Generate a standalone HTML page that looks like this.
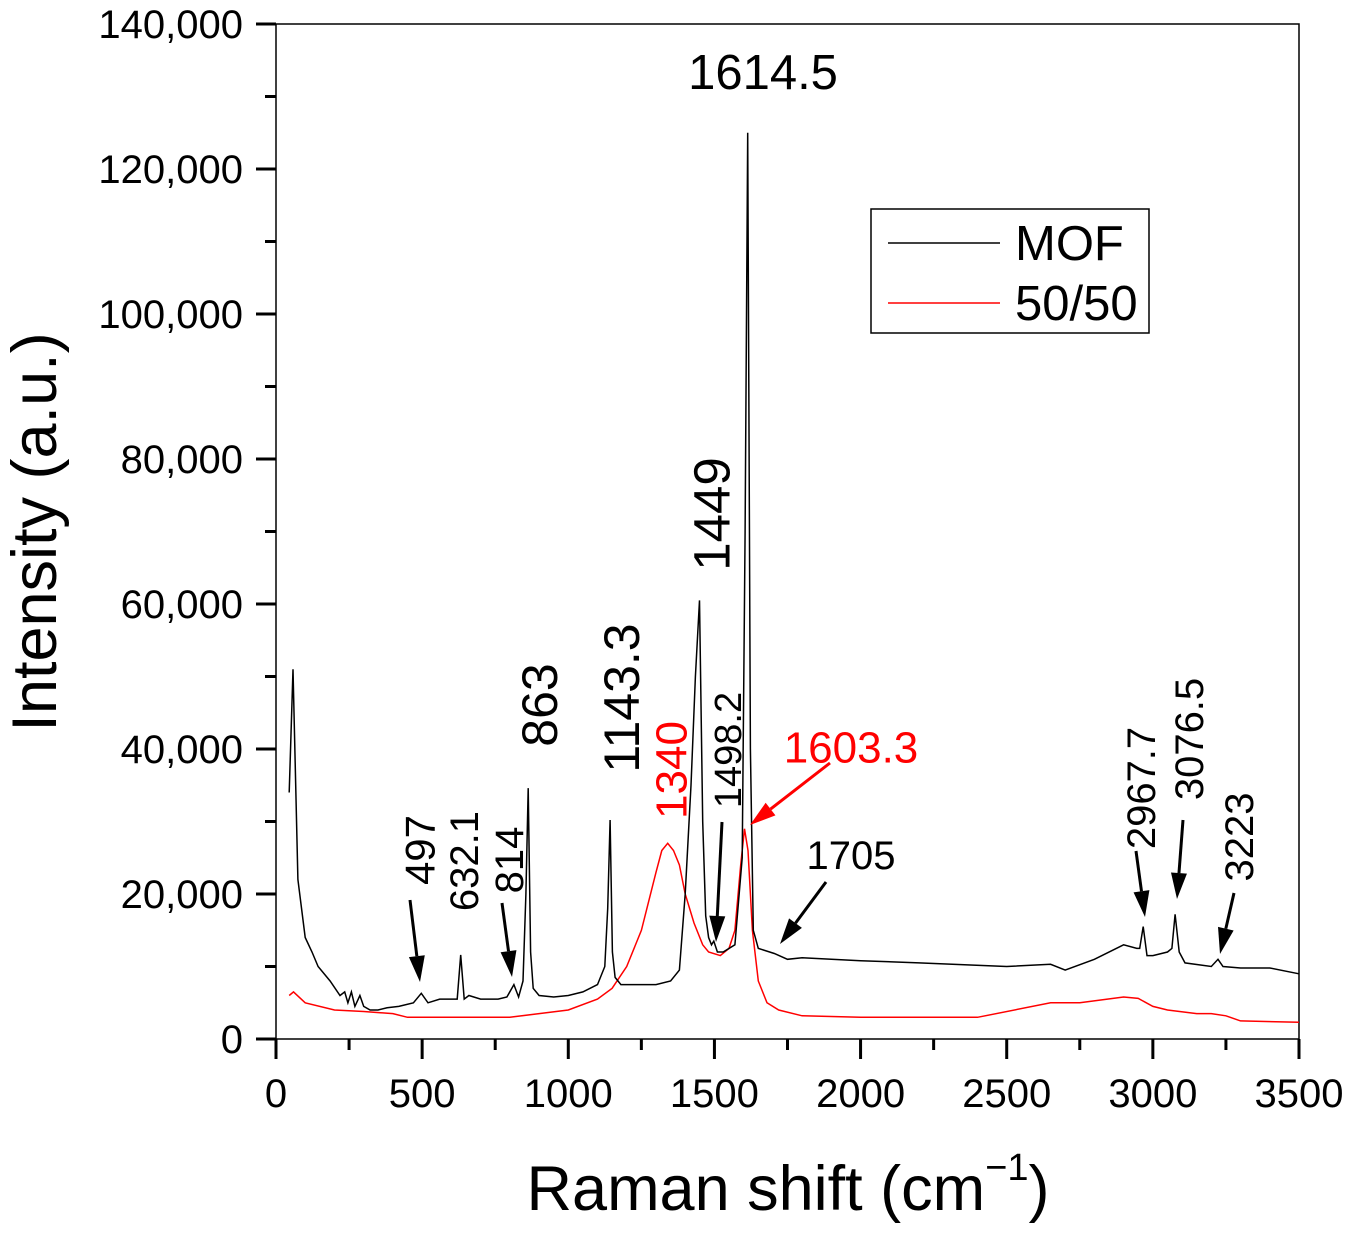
<!DOCTYPE html>
<html><head><meta charset="utf-8"><style>
html,body{margin:0;padding:0;background:#fff;}
svg{display:block;font-family:"Liberation Sans",Arial,sans-serif;}
</style></head><body>
<svg id="chart" width="1351" height="1234" viewBox="0 0 1351 1234" xmlns="http://www.w3.org/2000/svg">
<g id="plot"></g>
</svg>
<script>
const xTicks=[0,500,1000,1500,2000,2500,3000,3500];
const yTicks=[0,20000,40000,60000,80000,100000,120000,140000];
const yTickLabels=["0","20,000","40,000","60,000","80,000","100,000","120,000","140,000"];
const mofX=[45,58,75,100,123,144,185,219,235,246,258,270,287,300,322,349,380,420,470,497,520,560,600,620,632,644,660,700,760,790,814,830,845,855,863,871,880,900,950,1000,1050,1100,1125,1135,1143,1151,1160,1180,1250,1300,1350,1380,1400,1420,1435,1449,1460,1470,1480,1490,1498,1510,1530,1570,1595,1605,1614,1623,1633,1650,1705,1750,1800,2000,2200,2500,2650,2700,2800,2900,2945,2955,2967,2980,3000,3050,3065,3076,3090,3110,3200,3223,3240,3300,3400,3500];
const mofY=[34000,51000,22000,14000,12000,10000,8000,6000,6500,5000,6500,4500,6000,4500,4000,4000,4300,4500,5000,6300,5000,5500,5500,5500,11600,5500,6000,5500,5500,5800,7500,5800,8000,20000,34600,12000,7000,6000,5800,6000,6500,7500,10000,18000,30200,12000,8500,7500,7500,7500,8000,9500,20000,35000,50000,60500,30000,17000,14000,13000,13500,12000,12000,13000,25000,70000,125000,40000,15000,12500,11800,11000,11200,10800,10500,10000,10300,9500,11000,13000,12500,12500,15500,11500,11500,12000,12500,17200,12000,10500,10000,11000,10000,9800,9800,9000];
const redX=[45,60,100,200,300,400,450,600,800,900,1000,1100,1150,1200,1250,1300,1320,1340,1360,1380,1400,1430,1460,1480,1520,1550,1570,1590,1603,1615,1630,1650,1680,1720,1800,2000,2400,2650,2750,2900,2950,3000,3050,3150,3200,3250,3300,3500];
const redY=[6000,6500,5000,4000,3800,3500,3000,3000,3000,3500,4000,5500,7000,10000,15000,23000,26000,27000,26000,24000,20000,16000,13000,12000,11500,12500,15000,24000,29000,26000,15000,8000,5000,4000,3200,3000,3000,5000,5000,5800,5600,4500,4000,3500,3500,3200,2500,2300];

const L=276,R=1299,T=24,B=1039;
const sx=v=>L+(v-0)/3500*(R-L);
const sy=v=>B-v/140000*(B-T);
const NS="http://www.w3.org/2000/svg";
const g=document.getElementById('plot');
function mk(tag,attrs,text){const e=document.createElementNS(NS,tag);for(const k in attrs)e.setAttribute(k,attrs[k]);if(text!==undefined)e.textContent=text;g.appendChild(e);return e;}

const frame=mk('rect',{x:L,y:T,width:R-L,height:B-T,fill:'none',stroke:'#000','stroke-width':1.5});



for(let i=0;i<xTicks.length;i++){
  const v=xTicks[i];
  const t=mk('line',{x1:sx(v),x2:sx(v),y1:B,y2:B+20,stroke:'#000','stroke-width':3});
  
  
  const lb=mk('text',{x:sx(v),y:B+68,'text-anchor':'middle','font-size':40},String(v));
  
  
  if(i<xTicks.length-1){
    const m=(v+xTicks[i+1])/2;
    const mt=mk('line',{x1:sx(m),x2:sx(m),y1:B,y2:B+11,stroke:'#000','stroke-width':3});
    
    
  }
}
for(let i=0;i<yTicks.length;i++){
  const v=yTicks[i];
  const t=mk('line',{x1:L-20,x2:L,y1:sy(v),y2:sy(v),stroke:'#000','stroke-width':3});
  
  
  const lb=mk('text',{x:L-33,y:sy(v)+14,'text-anchor':'end','font-size':40},yTickLabels[i]);
  
  
  if(i<yTicks.length-1){
    const m=(v+yTicks[i+1])/2;
    const mt=mk('line',{x1:L-11,x2:L,y1:sy(m),y2:sy(m),stroke:'#000','stroke-width':3});
    
    
  }
}
const xt=mk('text',{x:788,y:1210,'text-anchor':'middle','font-size':63});
xt.innerHTML='Raman shift (cm<tspan font-size="38" dy="-30">−1</tspan><tspan dy="30">)</tspan>';


const yt=mk('text',{x:0,y:0,'text-anchor':'middle','font-size':63,transform:'translate(56,532) rotate(-90)'},'Intensity (a.u.)');



function path(xs,ys){return xs.map((x,i)=>(i?'L':'M')+sx(x).toFixed(1)+','+sy(ys[i]).toFixed(1)).join('');}
const red=mk('path',{d:path(redX,redY),fill:'none',stroke:'#ff0000','stroke-width':1.5});


const mof=mk('path',{d:path(mofX,mofY),fill:'none',stroke:'#000','stroke-width':1.5});



function ann(txt,cx,cy,fs,color,rot,name){
  const e=mk('text',{x:cx,y:cy,'text-anchor':'middle','dominant-baseline':'central','font-size':fs,fill:color,transform:rot?`rotate(-90 ${cx} ${cy})`:''},txt);
  
  
}
ann('1614.5',763,73,49,'#000',false,'label-1614-5');
ann('1449',712,514,51,'#000',true,'label-1449');
ann('1143.3',622,698,50,'#000',true,'label-1143-3');
ann('863',540,705,50,'#000',true,'label-863');
ann('1340',672,770,44,'#ff0000',true,'label-1340');
ann('1498.2',729,750,38,'#000',true,'label-1498-2');
ann('497',420,850,42,'#000',true,'label-497');
ann('632.1',465,861,40,'#000',true,'label-632-1');
ann('814',510,860,40,'#000',true,'label-814');
ann('1603.3',851,748,44,'#ff0000',false,'label-1603-3');
ann('1705',851,856,40,'#000',false,'label-1705');
ann('2967.7',1142,788,40,'#000',true,'label-2967-7');
ann('3076.5',1190,739,40,'#000',true,'label-3076-5');
ann('3223',1240,837,40,'#000',true,'label-3223');

function arrow(x1,y1,x2,y2,color,name){
  const dx=x2-x1,dy=y2-y1,len=Math.hypot(dx,dy),ux=dx/len,uy=dy/len;
  const hl=26,hw=8;
  const bx=x2-ux*hl,by=y2-uy*hl;
  const l=mk('line',{x1,y1,x2:bx,y2:by,stroke:color,'stroke-width':3});
  
  
  const p=mk('polygon',{points:`${x2},${y2} ${bx-uy*hw},${by+ux*hw} ${bx+uy*hw},${by-ux*hw}`,fill:color});
  
  
}
arrow(410,900,420,982,'#000','arrow-497');
arrow(502,903,512,977,'#000','arrow-814');
arrow(722,822,716,942,'#000','arrow-1498');
arrow(830,763,750,825,'#ff0000','arrow-1603');
arrow(826,882,780,944,'#000','arrow-1705');
arrow(1136,851,1145,917,'#000','arrow-2967');
arrow(1183,820,1177,899,'#000','arrow-3076');
arrow(1234,893,1220,954,'#000','arrow-3223');

const lg=mk('rect',{x:871,y:209,width:278,height:124,fill:'#fff',stroke:'#000','stroke-width':1.5});


const l1=mk('line',{x1:888,x2:1000,y1:243,y2:243,stroke:'#000','stroke-width':1.5});


const t1=mk('text',{x:1015,y:260,'font-size':49},'MOF');


const l2=mk('line',{x1:888,x2:1000,y1:303,y2:303,stroke:'#ff0000','stroke-width':1.5});


const t2=mk('text',{x:1015,y:320,'font-size':49},'50/50');


</script>
</body></html>
